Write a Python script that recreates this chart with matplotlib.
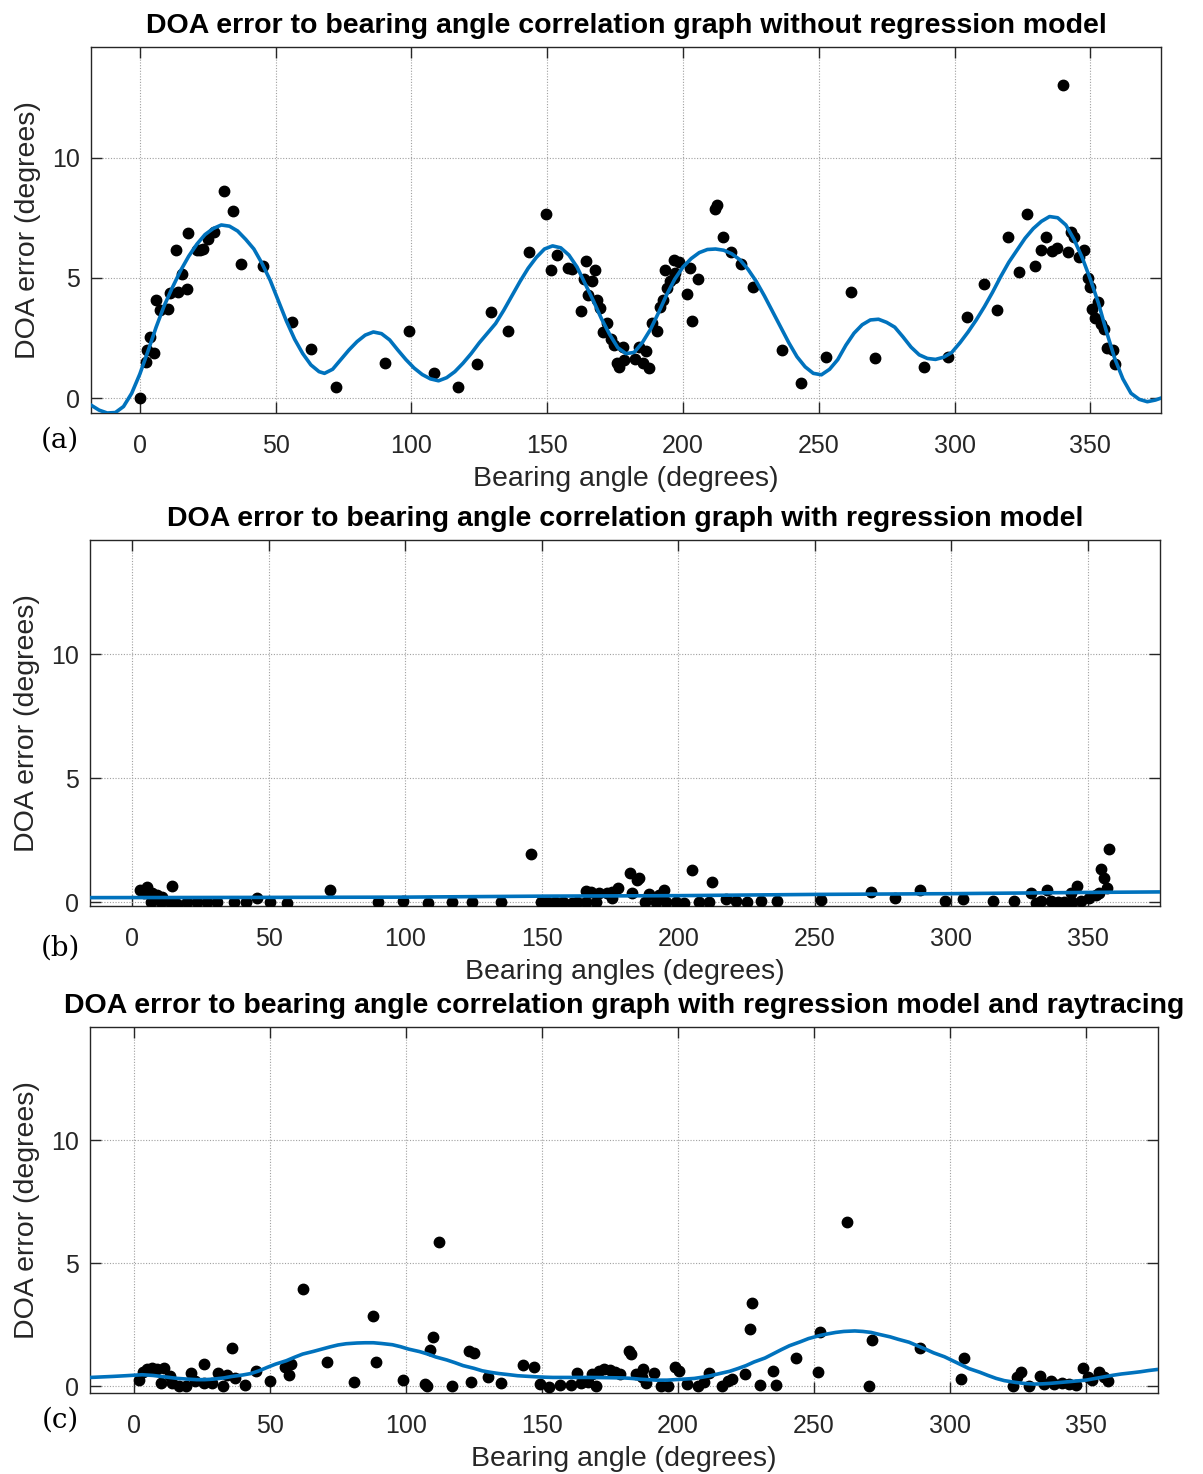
import matplotlib
matplotlib.use("Agg")
import matplotlib.pyplot as plt

plt.rcParams['font.family'] = ['Liberation Sans', 'DejaVu Sans']

# ---- panel (a): without regression model ----
a_x = [0, 2.1, 2.7, 5.3, 3.9, 6.1, 7.4, 10.2, 11.1, 14.1, 17.2, 15.4, 13.2, 17.9, 21, 22.1, 23.3, 25.2,
       27.4, 31.1, 34.2, 37.2, 45.2, 56.1, 63, 72.2, 90.2, 99.1, 108.5, 117.3, 124.3, 129.5, 135.4, 143.4,
       149.5, 151.4, 153.5, 157.5, 159.1, 164.4, 167.5, 163.4, 166.5, 165.2, 168.3, 169.5, 162.4, 172,
       170.5, 173.6, 174.5, 177.8, 175.7, 176.5, 178.4, 182.5, 184, 186.4, 185.4, 187.6, 188.6, 190.4,
       191.7, 192.5, 193.5, 194.1, 195.3, 196.6, 198.7, 197.2, 196.6, 202.5, 201.5, 205.4, 203.5, 211.7,
       212.6, 214.6, 217.7, 221.4, 225.7, 236.5, 243.6, 252.6, 261.7, 270.6, 288.7, 297.7, 304.7, 310.8,
       315.8, 319.8, 323.9, 326.8, 329.8, 331.8, 333.8, 335.8, 337.9, 339.8, 341.8, 342.8, 344, 345.9,
       347.7, 349, 349.9, 352.9, 350.8, 351.6, 353.8, 355.1, 356.3, 358.2, 359]
a_y = [0, 1.51, 2.0, 1.89, 2.55, 4.08, 3.67, 3.7, 4.36, 4.4, 4.55, 5.15, 6.17, 6.85, 6.15, 6.17, 6.2, 6.62,
       6.89, 8.62, 7.8, 5.58, 5.5, 3.18, 2.04, 0.47, 1.47, 2.8, 1.03, 0.47, 1.42, 3.6, 2.8, 6.06,
       7.67, 5.33, 5.96, 5.43, 5.36, 5.7, 5.33, 4.95, 4.85, 4.29, 4.08, 3.74, 3.64, 3.11,
       2.76, 2.46, 2.21, 2.14, 1.47, 1.28, 1.58, 1.61, 2.14, 1.97, 1.47, 1.24, 3.11, 2.8,
       3.8, 4.08, 5.33, 4.57, 4.85, 5.75, 5.64, 5.2, 4.99, 5.4, 4.32, 4.95, 3.22, 7.86,
       8.03, 6.68, 6.08, 5.58, 4.61, 2.0, 0.61, 1.69, 4.4, 1.65, 1.28, 1.69, 3.36, 4.75,
       3.67, 6.72, 5.26, 7.64, 5.5, 6.17, 6.72, 6.13, 6.24, 13.04, 6.07, 6.89, 6.7, 5.86,
       6.14, 4.99, 4.64, 3.99, 3.7, 3.32, 3.08, 2.86, 2.07, 2.0, 1.42]
a_fit_x = [-18, -15, -12, -9, -6, -3, 0, 3, 6, 9, 12, 15, 18, 21, 24, 27, 30, 33, 36, 39, 42, 45, 48, 51,
           54, 57, 60, 63, 66, 68, 71, 74, 77, 80, 83, 86, 89, 92, 95, 98, 101, 104, 107, 110, 113, 116,
           119, 122, 125, 128, 131, 134, 137, 140, 143, 146, 149, 152, 155, 158, 161, 164, 167, 170, 173,
           176, 179, 182, 185, 188, 191, 194, 197, 200, 203, 206, 209, 212, 215, 218, 221, 224, 227, 230,
           233, 236, 239, 242, 245, 248, 251, 254, 257, 260, 263, 266, 269, 272, 275, 278, 281, 284, 287,
           290, 293, 296, 299, 302, 305, 308, 311, 314, 317, 320, 323, 326, 329, 332, 335, 338, 341, 344,
           347, 350, 353, 356, 359, 362, 365, 368, 371, 374, 376]
a_fit_y = [-0.29, -0.5, -0.62, -0.6, -0.35, 0.2, 1.0, 1.95, 2.95, 3.85, 4.6, 5.3, 5.9, 6.4, 6.8, 7.05, 7.2,
           7.15, 6.95, 6.6, 6.2, 5.6, 4.9, 4.05, 3.2, 2.45, 1.85, 1.38, 1.1, 1.03, 1.2, 1.6, 2.0, 2.35, 2.62,
           2.75, 2.68, 2.42, 2.0, 1.6, 1.25, 0.98, 0.8, 0.72, 0.85, 1.1, 1.45, 1.85, 2.3, 2.7, 3.1, 3.65,
           4.25, 4.85, 5.4, 5.85, 6.2, 6.33, 6.25, 5.95, 5.45, 4.75, 4.05, 3.3, 2.65, 2.1, 1.85, 1.9, 2.3,
           2.85, 3.55, 4.3, 4.95, 5.45, 5.8, 6.05, 6.18, 6.2, 6.15, 6.0, 5.75, 5.35, 4.85, 4.25, 3.6, 2.95,
           2.3, 1.72, 1.3, 1.03, 0.97, 1.2, 1.6, 2.2, 2.7, 3.05, 3.25, 3.28, 3.15, 2.95, 2.55, 2.12, 1.8,
           1.65, 1.61, 1.7, 1.9, 2.3, 2.75, 3.25, 3.8, 4.4, 5.05, 5.65, 6.15, 6.65, 7.05, 7.35, 7.55, 7.5,
           7.2, 6.6, 5.85, 4.95, 3.95, 2.75, 1.65, 0.8, 0.2, -0.05, -0.15, -0.08, 0.0]

# ---- panel (b): with regression model ----
b_x = [3, 5.5, 4.3, 7.3, 9.1, 11, 14.4, 6.7, 10.4, 14, 16.5, 20.1, 23.8, 27.4, 31.1, 37.2, 41.5, 45.5,
       50.6, 56.5, 72.6, 90.1, 99, 108.2, 117.1, 124.3, 135.2, 146.1, 149.6, 152.1, 155, 157.6, 161.2,
       163, 166.1, 169.8, 166.1, 168, 171, 174, 175.9, 178, 175.9, 182.2, 185, 183.2, 185.6, 189.2,
       194.7, 192.9, 205.1, 212.2, 188, 191.7, 195.4, 199, 202.1, 207.6, 211.2, 217.4, 221.3, 225.3,
       230.4, 236.3, 252.4, 270.5, 279.3, 288.5, 297.6, 304.3, 315.2, 323.1, 329.1, 335, 346, 343.8,
       331.2, 333, 336.6, 339, 341.4, 344.4, 347.5, 350.5, 352.9, 354.1, 356.9, 355.9, 355, 357.9]
b_y = [0.5, 0.6, 0.36, 0.36, 0.3, 0.23, 0.66, 0.03, 0, -0.04, -0.07, 0, 0.03, 0, 0.03, 0.03, 0.03, 0.16,
       0.03, -0.04, 0.5, 0, 0.07, -0.04, 0.03, 0, 0.03, 1.94, 0.03, 0.03, 0, 0, -0.04,
       0, 0, 0.03, 0.47, 0.4, 0.36, 0.39, 0.43, 0.56, 0.16, 1.17, 0.9, 0.39, 0.97, 0.34,
       0.5, 0.3, 1.3, 0.83, 0.03, 0.03, 0, 0, -0.04, 0.03, 0.03, 0.12, 0.05, 0.03,
       0.07, 0.05, 0.09, 0.43, 0.19, 0.5, 0.07, 0.12, 0.07, 0.07, 0.39, 0.5, 0.66, 0.39,
       -0.01, 0.07, 0.07, 0.03, 0, 0.03, 0.07, 0.16, 0.3, 0.36, 0.56, 1.0, 1.34, 2.14]
b_fit_x = [-16, 50, 100, 150, 200, 250, 300, 350, 376]
b_fit_y = [0.19, 0.2, 0.21, 0.25, 0.27, 0.32, 0.35, 0.4, 0.42]

# ---- panel (c): with regression model and raytracing ----
c_x = [2, 3.3, 4.6, 6.6, 8.5, 10.9, 13.1, 9.8, 13.8, 16.4, 19, 21, 22.3, 25.6, 25.9, 28.8, 31, 32.8, 34,
       36, 37, 40.9, 44.8, 50, 55.4, 57, 57.6, 62, 71, 81, 88, 89.1, 98.9, 106.8, 107.8, 109, 110, 112,
       117, 123.2, 123.8, 125.1, 130, 134.9, 143, 146.9, 149.4, 152.6, 156.6, 160.5, 162.7, 164.4, 167,
       168.3, 169.7, 171, 172.9, 174.9, 176.9, 178.8, 182.1, 182.8, 184.7, 186.7, 187.1, 188.4, 191,
       193.7, 196.3, 198.9, 200.3, 203.2, 207.2, 209.5, 211.4, 216.3, 218.4, 220, 224.6, 226.3, 227.2,
       230.3, 235.1, 236.1, 243.3, 251.3, 252.2, 262.1, 270.3, 271.3, 289.1, 304.2, 305.1, 323.3, 324.6,
       326.3, 329.2, 333.2, 334.5, 337.1, 338.4, 341.1, 343.7, 346.3, 348.9, 350.9, 352.2, 354.9, 356.8,
       358.2]
c_y = [0.26, 0.56, 0.69, 0.72, 0.69, 0.72, 0.42, 0.11, 0.11, 0, 0.01, 0.51, 0.22, 0.11, 0.89, 0.11, 0.51,
       0, 0.46, 1.54, 0.33, 0.04, 0.6, 0.22, 0.76, 0.46, 0.89, 3.94, 0.99, 0.15, 2.86, 0.98, 0.26, 0.08,
       0, 1.46, 1.98, 5.84, 0.01, 1.44, 0.15, 1.33, 0.38, 0.11, 0.87, 0.79, 0.08, -0.03, 0.04, 0.04,
       0.51, 0.11, 0.15, 0.49, 0.01, 0.62, 0.69, 0.65, 0.56, 0.49, 1.44, 1.3, 0.49, 0.35, 0.69, 0.11,
       0.51, 0.01, 0.01, 0.76, 0.6, 0.08, 0, 0.15, 0.53, 0.01, 0.22, 0.28, 0.49, 2.32, 3.36, 0.05, 0.62,
       0.05, 1.14, 0.58, 2.18, 6.68, 0, 1.88, 1.53, 0.28, 1.14, 0.01, 0.35, 0.56, 0.01, 0.42, 0.08, 0.22,
       0.08, 0.11, 0.08, 0.04, 0.72, 0.35, 0.24, 0.58, 0.35, 0.22]
c_fit_x = [-16, -8, -3, 0, 3, 7, 10, 13, 16, 20, 23, 26, 29, 33, 36, 40, 43, 46, 49, 52, 56, 59, 62, 66,
           69, 72, 75, 78, 82, 85, 88, 91, 95, 98, 101, 105, 108, 111, 115, 118, 121, 125, 128, 131, 134,
           138, 141, 144, 147, 151, 154, 160, 167, 174, 180, 183, 186, 189, 192, 196, 199, 202, 206, 209,
           212, 215, 219, 222, 225, 228, 232, 235, 238, 241, 245, 248, 252, 255, 258, 261, 265, 268, 271,
           274, 278, 281, 285, 288, 291, 294, 298, 301, 304, 307, 311, 314, 317, 320, 324, 327, 331, 334,
           337, 340, 344, 347, 350, 353, 357, 360, 363, 367, 370, 373, 376]
c_fit_y = [0.35, 0.39, 0.42, 0.44, 0.46, 0.43, 0.39, 0.35, 0.31, 0.28, 0.26, 0.26, 0.28, 0.33, 0.39, 0.45,
           0.51, 0.62, 0.76, 0.89, 1.03, 1.17, 1.3, 1.41, 1.5, 1.59, 1.67, 1.72, 1.75, 1.76, 1.76, 1.73,
           1.68, 1.6, 1.5, 1.4, 1.3, 1.18, 1.06, 0.95, 0.83, 0.72, 0.62, 0.56, 0.51, 0.46, 0.42, 0.4, 0.38,
           0.36, 0.35, 0.35, 0.35, 0.34, 0.33, 0.31, 0.28, 0.26, 0.24, 0.24, 0.26, 0.28, 0.31, 0.36, 0.42,
           0.5, 0.6, 0.71, 0.83, 0.98, 1.14, 1.31, 1.48, 1.64, 1.8, 1.93, 2.05, 2.12, 2.18, 2.22, 2.24,
           2.22, 2.18, 2.1, 2.0, 1.9, 1.78, 1.64, 1.5, 1.35, 1.19, 1.03, 0.87, 0.71, 0.56, 0.43, 0.31, 0.22,
           0.15, 0.11, 0.08, 0.09, 0.11, 0.14, 0.18, 0.21, 0.24, 0.3, 0.38, 0.44, 0.49, 0.54, 0.58, 0.63,
           0.67]

titles = ['DOA error to bearing angle correlation graph without regression model',
          'DOA error to bearing angle correlation graph with regression model',
          'DOA error to bearing angle correlation graph with regression model and raytracing']
xlabels = ['Bearing angle (degrees)', 'Bearing angles (degrees)', 'Bearing angle (degrees)']
panel_tags = ['(a)', '(b)', '(c)']
xlims = [(-18, 376), (-15.5, 376.5), (-16.2, 376.5)]
ylims = [(-0.62, 14.6), (-0.15, 14.6), (-0.28, 14.6)]
xticks = [0, 50, 100, 150, 200, 250, 300, 350]
yticks = [0, 5, 10]

fig = plt.figure(figsize=(12.03, 14.74), dpi=100)
rects = [[0.0756, 0.7198, 0.8894, 0.2483],
         [0.0748, 0.3853, 0.8895, 0.2483],
         [0.0748, 0.0550, 0.8878, 0.2483]]
tag_y = [0.7015, 0.3568, 0.0366]

data = [(a_x, a_y, a_fit_x, a_fit_y), (b_x, b_y, b_fit_x, b_fit_y), (c_x, c_y, c_fit_x, c_fit_y)]
blue = '#0072BD'
edge = '#262626'

for i, (px, py, fx, fy) in enumerate(data):
    ax = fig.add_axes(rects[i])
    ax.plot(px, py, 'o', color='black', markersize=7.5, zorder=3)
    ax.plot(fx, fy, '-', color=blue, linewidth=2.6, zorder=4, solid_joinstyle='round')
    ax.set_xlim(*xlims[i])
    ax.set_ylim(*ylims[i])
    ax.set_xticks(xticks)
    ax.set_yticks(yticks)
    ax.grid(True, color='#a0a0a0', linestyle=(0, (1, 1.5)), linewidth=0.8)
    ax.set_axisbelow(True)
    ax.tick_params(direction='in', length=8, width=1, top=True, right=True,
                   labelsize=18, colors=edge, labelcolor='#262626')
    ax.tick_params(axis='x', pad=15)
    ax.tick_params(axis='y', pad=8)
    for s in ax.spines.values():
        s.set_color(edge)
        s.set_linewidth(1)
    ax.set_title(titles[i], fontsize=20.5, fontweight='bold', pad=10)
    ax.set_xlabel(xlabels[i], fontsize=20.5, labelpad=6, color='#262626')
    ax.set_ylabel('DOA error (degrees)', fontsize=20.5, labelpad=8, color='#262626')
    fig.text(0.05, tag_y[i], panel_tags[i], fontsize=20, family=['DejaVu Serif'],
             ha='center', va='center')

fig.savefig('out.png', dpi=100)
